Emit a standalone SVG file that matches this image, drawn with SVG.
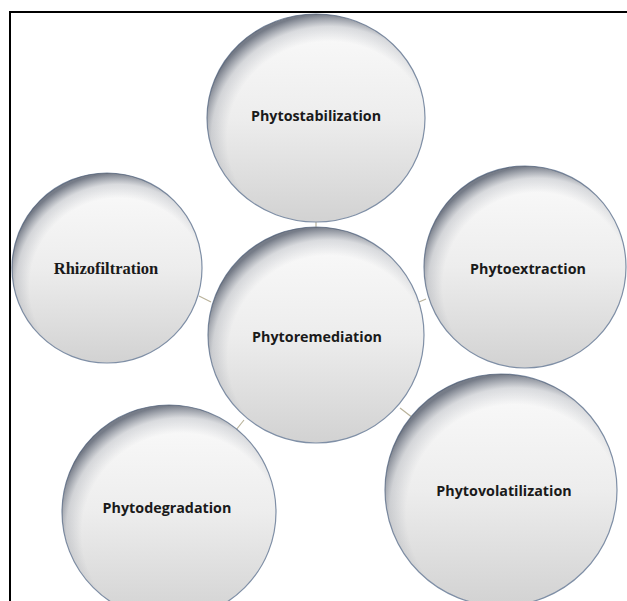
<svg xmlns="http://www.w3.org/2000/svg" width="627" height="601" viewBox="0 0 627 601">
<style>
.c{fill:url(#body);stroke:#7f8fa6;stroke-width:1.2}
.s{fill:url(#rim);stroke:none}
.t{font-family:"Open Sans","Liberation Sans",sans-serif;font-weight:bold;font-size:14.3px;fill:#1a1a1a;text-anchor:middle;dominant-baseline:central}
.r{font-family:"Liberation Serif",serif;font-weight:bold;font-size:16.5px;fill:#1a1a1a;text-anchor:middle;dominant-baseline:central}
.k{stroke:#b9b29a;stroke-width:1.2;fill:none}
</style>
<defs>
<linearGradient id="body" x1="0" y1="0" x2="0" y2="1">
<stop offset="0" stop-color="#fbfbfb"/>
<stop offset="0.5" stop-color="#ededed"/>
<stop offset="1" stop-color="#d2d2d2"/>
</linearGradient>
<radialGradient id="rim" cx="0.56" cy="0.6" r="0.6">
<stop offset="0.78" stop-color="#5a6272" stop-opacity="0"/>
<stop offset="0.9" stop-color="#5a6272" stop-opacity="0.2"/>
<stop offset="1" stop-color="#4a5262" stop-opacity="0.75"/>
</radialGradient>
</defs>
<rect x="0" y="0" width="627" height="601" fill="#ffffff"/>
<rect x="10" y="12" width="640" height="620" fill="none" stroke="#000" stroke-width="2"/>
<g id="connectors">
<line class="k" x1="316" y1="220" x2="316" y2="228"/>
<line class="k" x1="199" y1="296" x2="211" y2="302"/>
<line class="k" x1="419" y1="302" x2="426" y2="299"/>
<line class="k" x1="400" y1="408" x2="413" y2="418"/>
<line class="k" x1="244" y1="420" x2="236" y2="430"/>
</g>
<g id="phytostabilization">
<ellipse class="c" cx="316" cy="118" rx="109" ry="104"/>
<ellipse class="s" cx="316" cy="118" rx="109" ry="104"/>
<text class="t" x="316" y="115">Phytostabilization</text>
</g>
<g id="rhizofiltration">
<circle class="c" cx="107" cy="268" r="95"/>
<circle class="s" cx="107" cy="268" r="95"/>
<text class="r" x="106" y="268">Rhizofiltration</text>
</g>
<g id="phytoextraction">
<circle class="c" cx="525" cy="267" r="101"/>
<circle class="s" cx="525" cy="267" r="101"/>
<text class="t" x="528" y="268">Phytoextraction</text>
</g>
<g id="phytoremediation">
<circle class="c" cx="316" cy="335" r="108"/>
<circle class="s" cx="316" cy="335" r="108"/>
<text class="t" x="317" y="336">Phytoremediation</text>
</g>
<g id="phytodegradation">
<circle class="c" cx="169" cy="512" r="107"/>
<circle class="s" cx="169" cy="512" r="107"/>
<text class="t" x="167" y="507">Phytodegradation</text>
</g>
<g id="phytovolatilization">
<circle class="c" cx="501" cy="490" r="116"/>
<circle class="s" cx="501" cy="490" r="116"/>
<text class="t" x="504" y="490">Phytovolatilization</text>
</g>
</svg>
